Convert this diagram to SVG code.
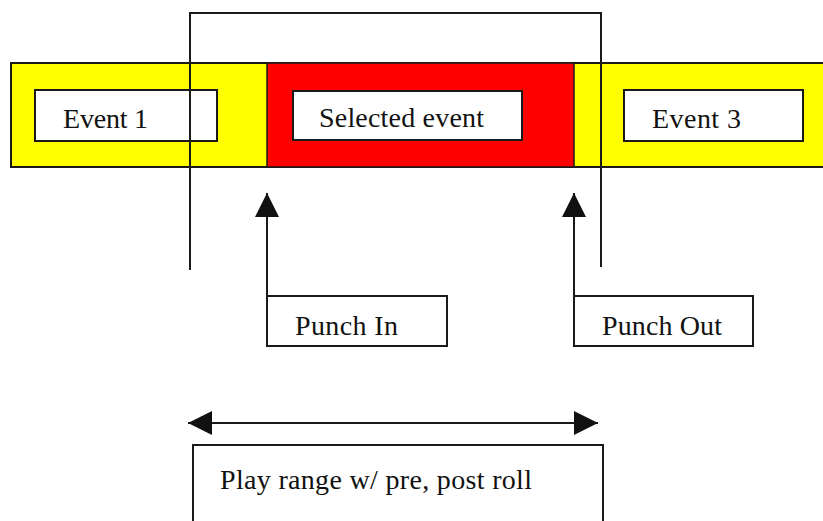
<svg xmlns="http://www.w3.org/2000/svg" width="823" height="521" viewBox="0 0 823 521">
<style>
  .box { fill: #ffffff; stroke: #1a1a1a; stroke-width: 2; }
  .lbl { font-family: "Liberation Serif", "Times New Roman", serif; font-size: 28px; fill: #111; }
  .line { fill: none; stroke: #1a1a1a; stroke-width: 2; }
</style>
<defs>
  <marker id="ah" markerUnits="userSpaceOnUse" markerWidth="26" markerHeight="26" refX="24" refY="12" orient="auto-start-reverse" viewBox="0 0 26 24">
    <path d="M0,0 L24,12 L0,24 Z" fill="#111"/>
  </marker>
</defs>
<rect width="823" height="521" fill="#ffffff"/>

<g id="timeline">
  <rect x="11" y="63" width="830" height="104" fill="#ffff00" stroke="#1a1a1a" stroke-width="2"/>
  <rect x="267" y="63" width="307" height="104" fill="#ff0000" stroke="#1a1a1a" stroke-width="1.5"/>
</g>

<g id="event1">
  <rect class="box" x="35" y="90" width="182" height="51"/>
  <text class="lbl" x="63" y="128" textLength="85">Event 1</text>
</g>

<g id="selected-event">
  <rect class="box" x="293" y="91" width="229" height="49"/>
  <text class="lbl" x="319" y="127" textLength="165">Selected event</text>
</g>

<g id="event3">
  <rect class="box" x="624" y="90" width="179" height="51"/>
  <text class="lbl" x="652" y="128" textLength="89">Event 3</text>
</g>

<g id="punch-in">
  <rect class="box" x="267" y="296" width="180" height="50"/>
  <text class="lbl" x="295" y="335" textLength="103">Punch In</text>
</g>

<g id="punch-out">
  <rect class="box" x="574" y="296" width="179" height="50"/>
  <text class="lbl" x="602" y="335" textLength="120">Punch Out</text>
</g>

<g id="play-range">
  <rect class="box" x="193" y="445" width="410" height="90"/>
  <text class="lbl" x="220" y="489" textLength="312">Play range w/ pre, post roll</text>
</g>

<g id="connectors">
  <polyline class="line" points="190,270 190,13 601,13 601,267"/>
  <line class="line" x1="267" y1="296" x2="267" y2="193" marker-end="url(#ah)"/>
  <line class="line" x1="574" y1="296" x2="574" y2="193" marker-end="url(#ah)"/>
  <line class="line" x1="188" y1="423" x2="598" y2="423" marker-start="url(#ah)" marker-end="url(#ah)"/>
</g>
</svg>
